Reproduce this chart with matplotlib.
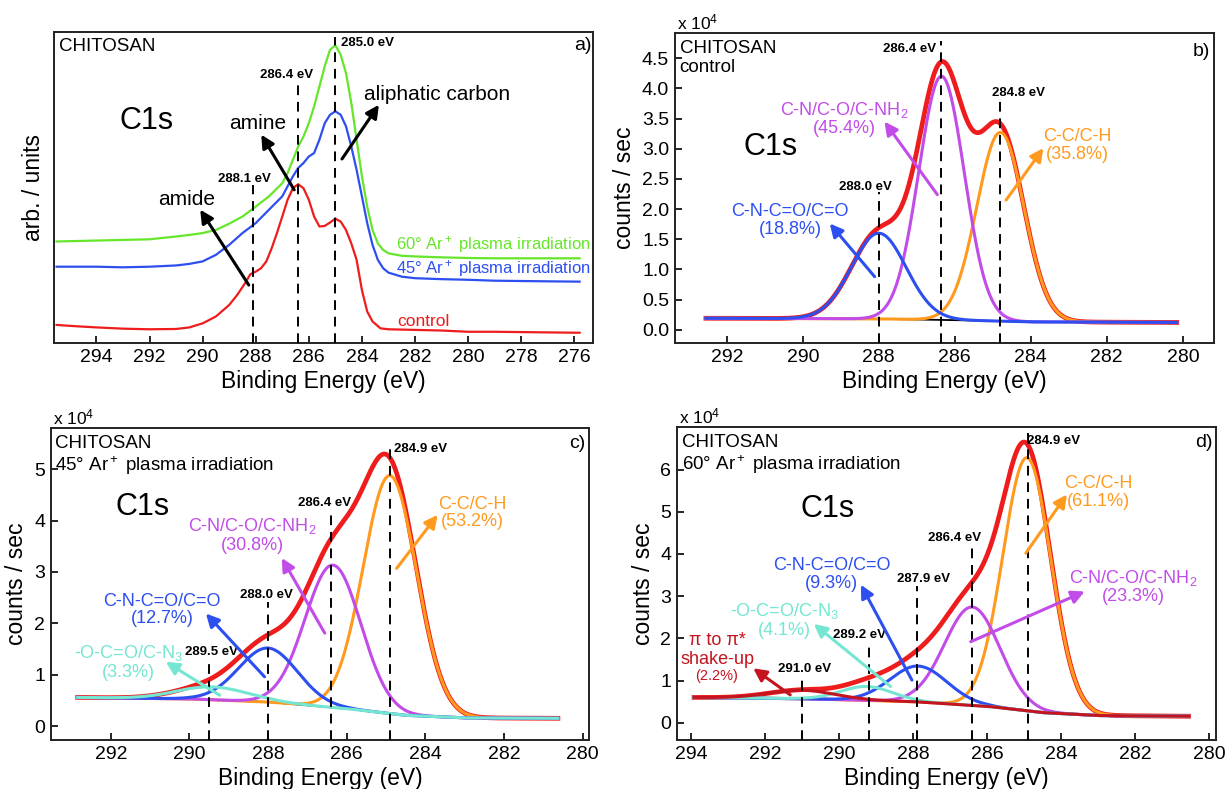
import numpy as np
import matplotlib.pyplot as plt

plt.rcParams['font.family'] = ['Liberation Sans', 'DejaVu Sans']
plt.rcParams['mathtext.fontset'] = 'custom'
plt.rcParams['mathtext.rm'] = 'Liberation Sans'
plt.rcParams['mathtext.it'] = 'Liberation Sans:italic'
plt.rcParams['mathtext.bf'] = 'Liberation Sans:bold'
plt.rcParams['mathtext.default'] = 'regular'

# ---- panel a: measured C1s spectra (arb. units, 0-100 of the axis) ----
a_energy = [295.5, 295.0, 294.0, 293.0, 292.0, 291.0, 290.5, 290.0, 289.5, 289.0,
            288.7, 288.4, 288.2, 288.0, 287.8, 287.6, 287.4, 287.2, 287.0, 286.8,
            286.6, 286.4, 286.2, 286.0, 285.8, 285.6, 285.4, 285.2, 285.0, 284.8,
            284.6, 284.4, 284.2, 284.0, 283.8, 283.6, 283.3, 283.0, 282.0, 281.0,
            280.0, 279.0, 278.0, 277.0, 276.0, 275.8]
a_control = [5.8, 5.5, 5.0, 4.6, 4.4, 4.5, 5.0, 6.3, 8.5, 12.2,
             15.4, 19.2, 22.1, 22.9, 24.0, 26.2, 30.4, 35.3, 40.6, 46.0,
             49.7, 51.0, 49.7, 46.0, 40.6, 37.4, 37.6, 38.7, 39.9, 39.0,
             36.3, 32.0, 26.7, 17.0, 10.1, 6.9, 4.7, 4.4, 4.2, 4.0,
             3.6, 3.6, 3.5, 3.4, 3.3, 3.3]
a_energy_irr = [295.5, 294.0, 293.0, 292.0, 291.0, 290.5, 290.0, 289.5, 289.0, 288.5,
                288.0, 287.5, 287.0, 286.8, 286.6, 286.4, 286.2, 286.0, 285.8, 285.6,
                285.4, 285.2, 285.0, 284.8, 284.6, 284.4, 284.2, 284.0, 283.8, 283.6,
                283.4, 283.2, 283.0, 282.5, 282.0, 281.0, 280.0, 279.0, 278.0, 277.0,
                275.8]
a_45deg = [24.5, 24.5, 24.3, 24.5, 24.9, 25.4, 26.2, 28.3, 31.5, 35.3,
           38.5, 42.8, 47.1, 50.3, 53.5, 56.2, 57.8, 59.9, 61.0, 65.3,
           70.6, 73.3, 74.4, 73.3, 69.6, 63.1, 55.6, 47.1, 38.5, 31.5,
           26.7, 24.0, 22.6, 21.3, 20.8, 20.5, 20.3, 20.0, 19.9, 19.8,
           19.7]
a_60deg = [32.6, 32.9, 33.1, 33.3, 34.2, 34.7, 35.3, 36.3, 38.3, 40.6,
           43.8, 47.1, 51.3, 54.6, 58.8, 63.1, 66.3, 70.6, 76.0, 82.4,
           88.9, 94.2, 95.6, 92.6, 86.7, 77.1, 65.3, 53.5, 43.8, 36.3,
           32.0, 29.9, 28.8, 28.0, 27.8, 27.5, 27.3, 27.2, 27.2, 27.2,
           27.2]
a_lines = [288.1, 286.4, 285.0]
a_line_tops = [50.8, 84.0, 98.3]

# ---- panels b-d: fitted components (x 10^4 counts/sec) ----
# b) control
b_names = ['C-N-C=O/C=O\n(18.8%)', 'C-N/C-O/C-NH$_2$\n(45.4%)', 'C-C/C-H\n(35.8%)']
b_centers = [288.0, 286.35, 284.8]
b_heights = [1.42, 4.04, 3.13]
b_widths = [0.72, 0.60, 0.62]
b_bg_energy = [292.6, 288.0, 286.0, 284.0, 280.0]
b_bg = [0.19, 0.18, 0.16, 0.13, 0.12]
b_lines = [288.0, 286.37, 284.8]
b_line_tops = [2.29, 4.78, 3.87]

# c) 45 deg Ar+
c_names = ['-O-C=O/C-N$_3$\n(3.3%)', 'C-N-C=O/C=O\n(12.7%)',
           'C-N/C-O/C-NH$_2$\n(30.8%)', 'C-C/C-H\n(53.2%)']
c_centers = [289.4, 288.0, 286.35, 284.9]
c_heights = [0.25, 1.05, 2.77, 4.63]
c_widths = [0.9, 0.75, 0.71, 0.68]
c_bg_energy = [293.0, 290.0, 288.0, 286.0, 284.5, 283.0, 280.0]
c_bg = [0.56, 0.53, 0.47, 0.34, 0.21, 0.16, 0.15]
c_lines = [289.5, 288.0, 286.4, 284.9]
c_line_tops = [1.32, 2.42, 4.2, 5.5]

# d) 60 deg Ar+
d_names = ['\u03c0 to \u03c0*\nshake-up', '-O-C=O/C-N$_3$\n(4.1%)', 'C-N-C=O/C=O\n(9.3%)',
           'C-N/C-O/C-NH$_2$\n(23.3%)', 'C-C/C-H\n(61.1%)']
d_centers = [291.0, 289.25, 287.85, 286.4, 284.92]
d_heights = [0.2, 0.33, 0.85, 2.33, 6.0]
d_widths = [0.9, 0.7, 0.77, 0.75, 0.65]
d_bg_energy = [294.0, 291.0, 288.0, 286.0, 284.5, 283.0, 280.0]
d_bg = [0.60, 0.57, 0.50, 0.39, 0.24, 0.17, 0.15]
d_lines = [291.0, 289.2, 287.9, 286.4, 284.9]
d_line_tops = [1.09, 1.88, 3.23, 4.26, 6.87]

RED = '#ee1c1c'
PURPLE = '#c24ce8'
BLUE = '#2d4ff0'
ORANGE = '#ff9a1f'
CYAN = '#74e6d2'
DKRED = '#c3141f'
GREEN = '#66e62a'

fig = plt.figure(figsize=(12.25, 7.89), dpi=100)
ax_a = fig.add_axes([0.0438, 0.5653, 0.4402, 0.3946])
ax_b = fig.add_axes([0.5508, 0.5653, 0.4402, 0.3929])
ax_c = fig.add_axes([0.0413, 0.0621, 0.4398, 0.3954])
ax_d = fig.add_axes([0.5524, 0.0621, 0.4402, 0.3967])


def style(ax, xlim, ylim, xticks, ylabel):
    ax.set_xlim(*xlim)
    ax.set_ylim(*ylim)
    ax.set_xticks(xticks)
    ax.tick_params(direction='in', length=5, width=1.2, labelsize=14, pad=4)
    for s in ax.spines.values():
        s.set_linewidth(1.4)
        s.set_color('#222222')
    ax.set_xlabel('Binding Energy (eV)', fontsize=16.5, labelpad=3)
    ax.set_ylabel(ylabel, fontsize=16.5, labelpad=4)


def dashed(ax, xs, tops, bottom):
    for x, t in zip(xs, tops):
        ax.plot([x, x], [bottom, t], color='k', lw=1.4, ls=(0, (5, 3.5)), zorder=6)


def arrow(ax, tail, head, color):
    ax.annotate('', xy=head, xytext=tail, zorder=7,
                arrowprops=dict(arrowstyle='-|>,head_length=0.55,head_width=0.28',
                                color=color, lw=2.2, shrinkA=0, shrinkB=0,
                                mutation_scale=14))


def fit(ax, e0, e1, bg_e, bg_v, centers, heights, widths, colors):
    e = np.linspace(e0, e1, 800)
    bg = np.interp(e, bg_e[::-1], bg_v[::-1])
    comps = [h * np.exp(-(e - c) ** 2 / (2 * w ** 2)) for c, h, w in zip(centers, heights, widths)]
    env = bg + np.sum(comps, axis=0)
    ax.plot(e, bg, color='k', lw=1.3, zorder=2)
    ax.plot(e, env, color='k', lw=1.3, zorder=2)
    ax.plot(e, env, color=RED, lw=3.4, zorder=3)
    for comp, col in list(zip(comps, colors))[::-1]:
        ax.plot(e, bg + comp, color=col, lw=2.2, zorder=4)


def header(ax, line2=None):
    ax.text(0.009, 0.978, 'CHITOSAN', transform=ax.transAxes, fontsize=13.5, va='top', ha='left')
    if line2:
        ax.text(0.009, 0.915, line2, transform=ax.transAxes, fontsize=13.5, va='top', ha='left')


def exponent(ax):
    ax.text(0.004, 1.003, 'x 10$^{4}$', transform=ax.transAxes, fontsize=12.5,
            va='bottom', ha='left')


# ---------------- a ----------------
ax = ax_a
ax.plot(a_energy_irr, a_60deg, color=GREEN, lw=1.6)
ax.plot(a_energy_irr, a_45deg, color=BLUE, lw=1.6)
ax.plot(a_energy, a_control, color=RED, lw=1.6)
style(ax, (295.61, 275.3), (0, 100), np.arange(294, 275, -2), 'arb. / units')
ax.set_yticks([])
ax.set_ylabel('arb. / units', fontsize=16.5, labelpad=6)
dashed(ax, a_lines, a_line_tops, 0)
for x, y, s, ha in [(288.41, 52.7, '288.1 eV', 'center'), (286.83, 86.2, '286.4 eV', 'center'),
                    (284.78, 96.4, '285.0 eV', 'left')]:
    ax.text(x, y, s, fontsize=9.5, fontweight='bold', ha=ha, va='center')
ax.text(0.009, 0.979, 'CHITOSAN', transform=ax.transAxes, fontsize=13.5, va='top')
ax.text(0.997, 0.955, 'a)', transform=ax.transAxes, fontsize=14, ha='right', va='center')
ax.text(0.173, 0.714, 'C1s', transform=ax.transAxes, fontsize=22, ha='center', va='center')
ax.text(290.6, 46.0, 'amide', fontsize=15, ha='center', va='center')
ax.text(287.94, 70.4, 'amine', fontsize=15, ha='center', va='center')
ax.text(283.94, 79.7, 'aliphatic carbon', fontsize=15, ha='left', va='center')
arrow(ax, (288.26, 18.6), (290.09, 42.8), 'k')
arrow(ax, (286.55, 49.2), (287.79, 66.9), 'k')
arrow(ax, (284.75, 59.1), (283.36, 76.5), 'k')
ax.text(282.7, 31.5, '60\u00b0 Ar$^+$ plasma irradiation', color=GREEN, fontsize=12, va='center')
ax.text(282.7, 24.0, '45\u00b0 Ar$^+$ plasma irradiation', color=BLUE, fontsize=12, va='center')
ax.text(282.67, 6.9, 'control', color=RED, fontsize=12.5, va='center')

# ---------------- b ----------------
ax = ax_b
fit(ax, 292.55, 280.16, b_bg_energy, b_bg, b_centers, b_heights, b_widths, [BLUE, PURPLE, ORANGE])
style(ax, (293.37, 279.18), (-0.22, 4.92), np.arange(292, 279, -2), 'counts / sec')
ax.set_yticks(np.arange(0, 4.6, 0.5))
ax.set_yticklabels(['%.1f' % v for v in np.arange(0, 4.6, 0.5)])
dashed(ax, b_lines, b_line_tops, -0.22)
for x, y, s in [(288.34, 2.37, '288.0 eV'), (287.18, 4.65, '286.4 eV'), (284.32, 3.93, '284.8 eV')]:
    ax.text(x, y, s, fontsize=9.5, fontweight='bold', ha='center', va='center')
header(ax, 'control')
exponent(ax)
ax.text(0.993, 0.94, 'b)', transform=ax.transAxes, fontsize=14, ha='right', va='center')
ax.text(0.178, 0.633, 'C1s', transform=ax.transAxes, fontsize=22, ha='center', va='center')
for (x, y), s, col in zip([(290.33, 1.81), (288.9, 3.5), (282.77, 3.05)], b_names, [BLUE, PURPLE, ORANGE]):
    ax.text(x, y, s, color=col, fontsize=13, ha='center', va='center', linespacing=1.05)
arrow(ax, (288.11, 0.88), (289.29, 1.76), BLUE)
arrow(ax, (286.46, 2.24), (287.85, 3.45), PURPLE)
arrow(ax, (284.65, 2.15), (283.67, 3.01), ORANGE)

# ---------------- c ----------------
ax = ax_c
fit(ax, 292.84, 280.63, c_bg_energy, c_bg, c_centers, c_heights, c_widths, [CYAN, BLUE, PURPLE, ORANGE])
style(ax, (293.53, 279.83), (-0.27, 5.8), np.arange(292, 279, -2), 'counts / sec')
ax.set_yticks(np.arange(0, 6, 1))
dashed(ax, c_lines, c_line_tops, -0.27)
for x, y, s, ha in [(289.45, 1.44, '289.5 eV', 'center'), (288.05, 2.55, '288.0 eV', 'center'),
                    (286.57, 4.34, '286.4 eV', 'center'), (284.79, 5.39, '284.9 eV', 'left')]:
    ax.text(x, y, s, fontsize=9.5, fontweight='bold', ha=ha, va='center')
header(ax, '45\u00b0 Ar$^+$ plasma irradiation')
exponent(ax)
ax.text(0.993, 0.949, 'c)', transform=ax.transAxes, fontsize=14, ha='right', va='center')
ax.text(0.17, 0.746, 'C1s', transform=ax.transAxes, fontsize=22, ha='center', va='center')
for (x, y), s, col in zip([(291.55, 1.25), (290.7, 2.26), (288.39, 3.72), (282.8, 4.15)],
                          c_names, [CYAN, BLUE, PURPLE, ORANGE]):
    ax.text(x, y, s, color=col, fontsize=13, ha='center', va='center', linespacing=1.05)
arrow(ax, (289.23, 0.6), (290.6, 1.25), CYAN)
arrow(ax, (288.09, 0.96), (289.58, 2.19), BLUE)
arrow(ax, (286.56, 1.81), (287.65, 3.27), PURPLE)
arrow(ax, (284.73, 3.07), (283.69, 4.11), ORANGE)

# ---------------- d ----------------
ax = ax_d
fit(ax, 293.92, 280.55, d_bg_energy, d_bg, d_centers, d_heights, d_widths,
    [DKRED, CYAN, BLUE, PURPLE, ORANGE])
style(ax, (294.39, 279.81), (-0.41, 7.01), np.arange(294, 279, -2), 'counts / sec')
ax.set_yticks(np.arange(0, 7, 1))
dashed(ax, d_lines, d_line_tops, -0.41)
for x, y, s, ha in [(290.92, 1.27, '291.0 eV', 'center'), (289.44, 2.08, '289.2 eV', 'center'),
                    (287.71, 3.41, '287.9 eV', 'center'), (286.88, 4.39, '286.4 eV', 'center'),
                    (284.93, 6.67, '284.9 eV', 'left')]:
    ax.text(x, y, s, fontsize=9.5, fontweight='bold', ha=ha, va='center')
header(ax, '60\u00b0 Ar$^+$ plasma irradiation')
exponent(ax)
ax.text(0.993, 0.95, 'd)', transform=ax.transAxes, fontsize=14, ha='right', va='center')
ax.text(0.279, 0.738, 'C1s', transform=ax.transAxes, fontsize=22, ha='center', va='center')
ax.text(293.29, 1.72, d_names[0], color=DKRED, fontsize=13, ha='center', va='center', linespacing=1.15)
ax.text(293.31, 1.11, '(2.2%)', color=DKRED, fontsize=10.5, ha='center', va='center')
for (x, y), s, col in zip([(291.48, 2.43), (290.2, 3.51), (282.04, 3.23), (282.99, 5.45)],
                          d_names[1:], [CYAN, BLUE, PURPLE, ORANGE]):
    ax.text(x, y, s, color=col, fontsize=13, ha='center', va='center', linespacing=1.05)
arrow(ax, (291.32, 0.66), (292.32, 1.29), DKRED)
arrow(ax, (288.61, 0.86), (290.68, 2.34), CYAN)
arrow(ax, (288.03, 1.01), (289.41, 3.27), BLUE)
arrow(ax, (286.44, 1.92), (283.36, 3.11), PURPLE)
arrow(ax, (284.95, 4.02), (283.84, 5.41), ORANGE)

fig.savefig('out.png', dpi=100)
